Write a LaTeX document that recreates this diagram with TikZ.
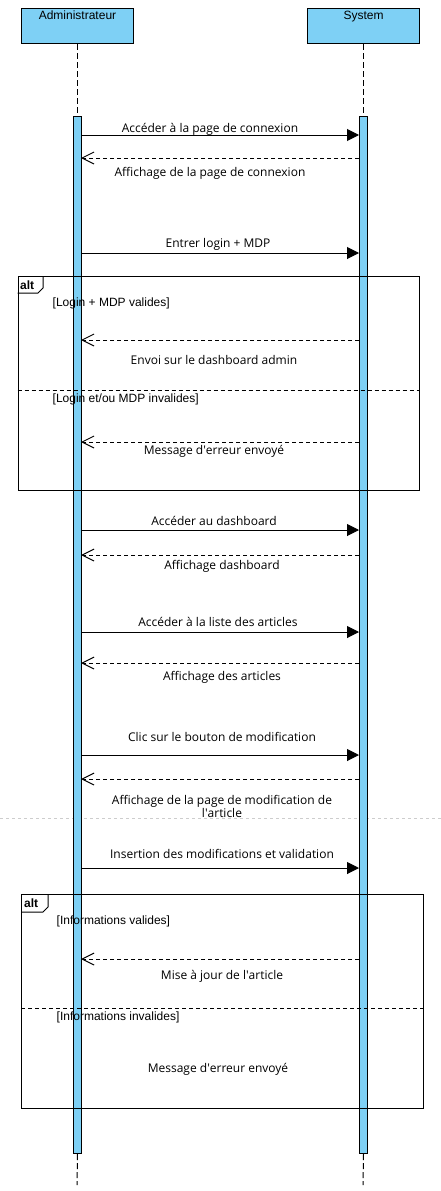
\documentclass[tikz,border=0pt]{standalone}
\usepackage{fontspec}
\setmainfont{Open Sans}
\newfontfamily\arialf{Liberation Sans}
\usetikzlibrary{arrows.meta}
\definecolor{lifeblue}{RGB}{126,208,245}
\definecolor{pagegray}{RGB}{205,205,205}
\begin{document}
\begin{tikzpicture}[x=1pt,y=-1pt,
  actor/.style={draw=black,fill=lifeblue,line width=1pt,minimum width=112pt,minimum height=35pt,inner sep=0pt,anchor=north west},
  actorname/.style={font=\arialf\fontsize{12}{14}\selectfont,anchor=north,inner sep=0pt,yshift=-2.5pt},
  actbar/.style={draw=black,fill=lifeblue,line width=1pt,minimum width=8pt,minimum height=1037pt,inner sep=0pt,anchor=north west},
  lifeline/.style={line width=1pt,dash pattern=on 6pt off 3pt},
  callmsg/.style={line width=1pt,-{Triangle[length=12pt,width=12pt]}},
  retmsg/.style={line width=1pt,dash pattern=on 4pt off 3pt,-{Straight Barb[length=12pt,width=12pt,line width=1pt]}},
  msgtext/.style={font=\fontsize{12}{13}\selectfont,inner sep=0pt,anchor=center,align=center},
  frame/.style={draw=black,line width=1pt,inner sep=0pt,anchor=north west},
  frameline/.style={line width=1pt},
  divider/.style={line width=1pt,dash pattern=on 4pt off 3pt},
  guard/.style={font=\arialf\fontsize{12}{14}\selectfont,inner sep=0pt,anchor=west},
  altlabel/.style={font=\arialf\bfseries\fontsize{12}{14}\selectfont,inner sep=0pt,anchor=west},
  pageline/.style={draw=pagegray,line width=1pt,dash pattern=on 3pt off 3pt}
]
\useasboundingbox (0,0) rectangle (441,1191);

% page break line
\coordinate (pl) at (0,818);
\coordinate (pr) at (441,818);
\draw[pageline] (pl) -- (pr);

% actors
\node[actor,label={[actorname]north:Administrateur}] (adm) at (21,8) {};
\node[actor,label={[actorname]north:System}] (sys) at (307,8) {};

% activation bars
\node[actbar] (abar) at (73,116) {};
\node[actbar] (sbar) at (359,116) {};

% lifelines
\coordinate (aend) at (77,1185);
\coordinate (send) at (363,1185);
\draw[lifeline] (adm.south) -- (abar.north);
\draw[lifeline] (sys.south) -- (sbar.north);
\draw[lifeline] (abar.south) -- (aend);
\draw[lifeline] (sbar.south) -- (send);

% alt frames
\node[frame,minimum width=401.5pt,minimum height=214pt] (alt1) at (17.5,276) {};
\node[frame,minimum width=402pt,minimum height=214pt] (alt2) at (21,894) {};
\draw[frameline] ([yshift=-17pt]alt1.north west) -- ++(20.5,0) -- ++(5,-5) -- ++(0,-12);
\draw[frameline] ([yshift=-18pt]alt2.north west) -- ++(22,0) -- ++(5,-5) -- ++(0,-13);
\node[altlabel] (alt1l) at (20,285) {alt};
\node[altlabel] (alt2l) at (24,903) {alt};

\node[guard] (g1) at (52.5,303) {[Login + MDP valides]};
\node[guard] (g2) at (52.5,399) {[Login et/ou MDP invalides]};
\node[guard] (g3) at (56.5,921) {[Informations valides]};
\node[guard] (g4) at (56.5,1017) {[Informations invalides]};

\coordinate (d1l) at (17.5,390);
\coordinate (d1r) at (419,390);
\draw[divider] (d1l) -- (d1r);
\coordinate (d2l) at (21,1008);
\coordinate (d2r) at (423,1008);
\draw[divider] (d2l) -- (d2r);

% message anchor points
\foreach \n/\y in {1/135,2/158,3/253,4/340,5/442,6/530,7/555,8/632,9/663,10/755,11/779,12/868,13/959}{
  \coordinate (a\n) at (81,\y);
  \coordinate (s\n) at (359,\y);
}

% messages
\draw[callmsg] (a1) -- (s1);
\node[msgtext] (t1) at (210,129) {Accéder à la page de connexion};
\draw[retmsg] (s2) -- (a2);
\node[msgtext] (t2) at (210,173) {Affichage de la page de connexion};
\draw[callmsg] (a3) -- (s3);
\node[msgtext] (t3) at (218,244) {Entrer login + MDP};
\draw[retmsg] (s4) -- (a4);
\node[msgtext] (t4) at (214,360) {Envoi sur le dashboard admin};
\draw[retmsg] (s5) -- (a5);
\node[msgtext] (t5) at (214,451) {Message d\textquotesingle erreur envoyé};
\draw[callmsg] (a6) -- (s6);
\node[msgtext] (t6) at (214,521) {Accéder au dashboard};
\draw[retmsg] (s7) -- (a7);
\node[msgtext] (t7) at (222,566) {Affichage dashboard};
\draw[callmsg] (a8) -- (s8);
\node[msgtext] (t8) at (218,622) {Accéder à la liste des articles};
\draw[retmsg] (s9) -- (a9);
\node[msgtext] (t9) at (222,677) {Affichage des articles};
\draw[callmsg] (a10) -- (s10);
\node[msgtext] (t10) at (222,737) {Clic sur le bouton de modification};
\draw[retmsg] (s11) -- (a11);
\node[msgtext] (t11) at (222,806.5) {Affichage de la page de modification de\\l\textquotesingle article};
\draw[callmsg] (a12) -- (s12);
\node[msgtext] (t12) at (222,854) {Insertion des modifications et validation};
\draw[retmsg] (s13) -- (a13);
\node[msgtext] (t13) at (222,976) {Mise à jour de l\textquotesingle article};
\node[msgtext] (t14) at (218,1069) {Message d\textquotesingle erreur envoyé};
\end{tikzpicture}
\end{document}
